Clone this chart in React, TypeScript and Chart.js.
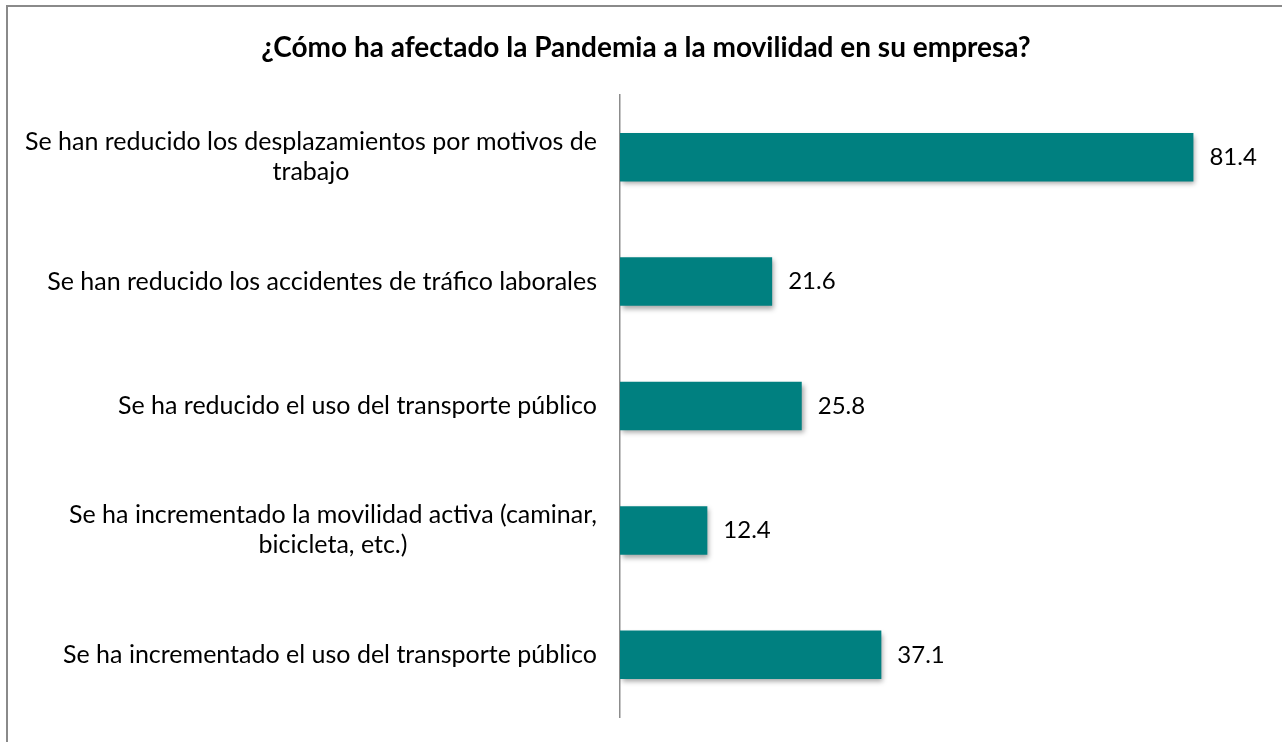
import React, { useEffect, useRef } from "react";
import { Chart, registerables } from "chart.js";

Chart.register(...registerables);

const TITLE = "¿Cómo ha afectado la Pandemia a la movilidad en su empresa?";
const categories: string[][] = [
  ["Se han reducido los desplazamientos por motivos de", "trabajo"],
  ["Se han reducido los accidentes de tráfico laborales"],
  ["Se ha reducido el uso del transporte público"],
  ["Se ha incrementado la movilidad activa (caminar,", "bicicleta, etc.)"],
  ["Se ha incrementado el uso del transporte público"],
];
const values: number[] = [81.4, 21.6, 25.8, 12.4, 37.1];

const FONT = "Lato, 'Liberation Sans', sans-serif";
const LABEL_SIZE = 25;
const VALUE_SIZE = 24;
const TITLE_SIZE = 28;

export default function App() {
  const ref = useRef<HTMLCanvasElement | null>(null);

  useEffect(() => {
    if (!ref.current) return;

    const labelsPlugin = {
      id: "catLabels",
      afterDraw(chart: any) {
        const { ctx } = chart;
        const y = chart.scales.y;
        const right = chart.chartArea.left - 23;
        ctx.save();
        ctx.fillStyle = "#000";
        ctx.textBaseline = "middle";
        ctx.textAlign = "center";
        // title
        ctx.font = `bold ${TITLE_SIZE}px ${FONT}`;
        ctx.fillText(TITLE, 646, 48);
        // category labels
        ctx.font = `${LABEL_SIZE}px ${FONT}`;
        const lh = 30;
        categories.forEach((lines, i) => {
          const cy = y.getPixelForValue(i);
          const w = Math.max(...lines.map((l) => ctx.measureText(l).width));
          const cx = right - w / 2;
          const top = cy - ((lines.length - 1) * lh) / 2;
          lines.forEach((l, j) => ctx.fillText(l, cx, top + j * lh));
        });
        ctx.restore();
      },
    };

    const valuePlugin = {
      id: "valueLabels",
      afterDatasetsDraw(chart: any) {
        const { ctx } = chart;
        const meta = chart.getDatasetMeta(0);
        ctx.save();
        ctx.font = `${VALUE_SIZE}px ${FONT}`;
        ctx.fillStyle = "#000";
        ctx.textBaseline = "middle";
        ctx.textAlign = "left";
        meta.data.forEach((el: any, i: number) => {
          ctx.fillText(values[i].toFixed(1), el.x + 16, el.y);
        });
        ctx.restore();
      },
    };

    const shadowPlugin = {
      id: "barShadow",
      beforeDatasetsDraw(chart: any) {
        const { ctx } = chart;
        ctx.save();
        ctx.shadowColor = "rgba(0,0,0,0.35)";
        ctx.shadowBlur = 5;
        ctx.shadowOffsetX = 2;
        ctx.shadowOffsetY = 3;
      },
      afterDatasetsDraw(chart: any) {
        chart.ctx.restore();
      },
    };

    const chart = new Chart(ref.current, {
      type: "bar",
      data: {
        labels: categories.map((c) => c.join(" ")),
        datasets: [
          {
            data: values,
            backgroundColor: "#008080",
            borderWidth: 0,
            barPercentage: 0.39,
            categoryPercentage: 1,
          },
        ],
      },
      options: {
        indexAxis: "y",
        responsive: false,
        animation: false,
        layout: { padding: { left: 0, right: 28, top: 95, bottom: 25 } },
        plugins: {
          legend: { display: false },
          tooltip: { enabled: false },
          title: { display: false },
        },
        scales: {
          x: { display: false, min: 0, max: 90 },
          y: {
            display: true,
            grid: { display: false, drawTicks: false },
            ticks: { display: false },
            border: { display: true, color: "#8c8c8c", width: 1.5 },
            afterFit(scale: any) {
              scale.width = 620;
            },
          },
        },
      },
      plugins: [shadowPlugin, valuePlugin, labelsPlugin],
    });
    return () => chart.destroy();
  }, []);

  return (
    <div style={{ position: "fixed", left: 0, top: 0, width: 1282, height: 742, overflow: "hidden", background: "#fff" }}>
      <div
        style={{
          position: "absolute",
          left: 6,
          top: 5,
          width: 1400,
          height: 900,
          border: "2px solid #8a8a8a",
          boxSizing: "border-box",
        }}
      />
      <canvas ref={ref} width={1282} height={742} style={{ position: "absolute", left: 0, top: 0, display: "block" }} />
    </div>
  );
}
